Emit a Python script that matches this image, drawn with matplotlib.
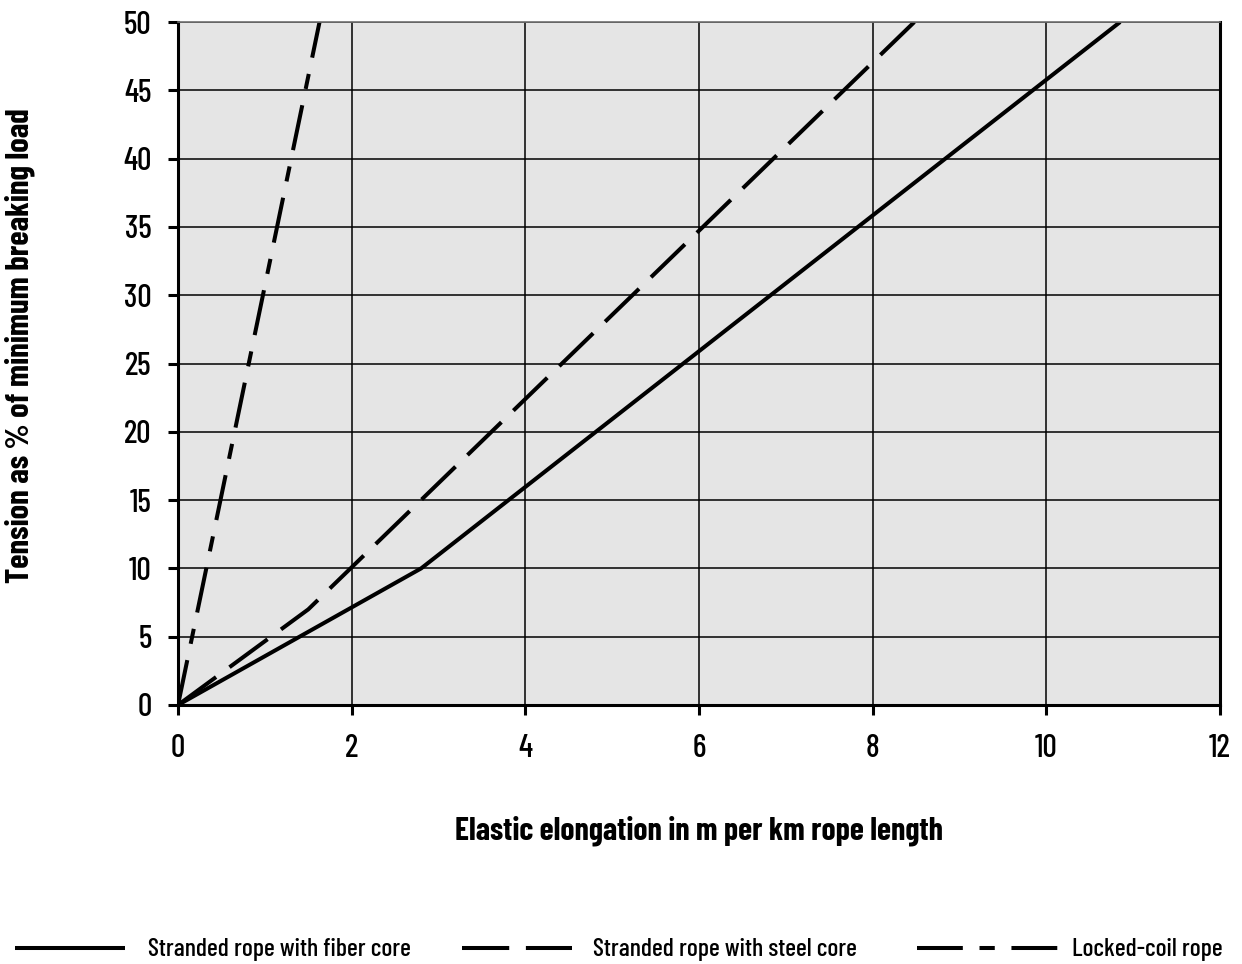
import matplotlib.pyplot as plt
from matplotlib.lines import Line2D

plt.rcParams['font.family'] = ['Barlow Condensed', 'Roboto Condensed',
                               'IBM Plex Sans Condensed', 'DejaVu Sans']
plt.rcParams['font.weight'] = 'medium'
plt.rcParams['lines.scale_dashes'] = False

# data
fiber_x = [0, 2.8, 10.85]
fiber_y = [0, 10, 50]
steel_x = [0, 1.5, 8.48]
steel_y = [0, 7, 50]
locked_x = [0, 1.63]
locked_y = [0, 50]

labels = ["Stranded rope with fiber core", "Stranded rope with steel core", "Locked-coil rope"]
xticks = [0, 2, 4, 6, 8, 10, 12]
yticks = [0, 5, 10, 15, 20, 25, 30, 35, 40, 45, 50]

W, H = 1242, 964
fig = plt.figure(figsize=(W / 100, H / 100), dpi=100)
ax = fig.add_axes([178 / W, 1 - 705 / H, (1220 - 178) / W, (705 - 22) / H])
ax.set_facecolor('#e5e5e5')

lw = 2.9
styles = [dict(), dict(dashes=(34, 12)), dict(dashes=(33, 12, 11, 12))]
ax.plot(fiber_x, fiber_y, color='black', lw=lw, solid_capstyle='butt', **styles[0])
ax.plot(steel_x, steel_y, color='black', lw=lw, dash_capstyle='butt', **styles[1])
ax.plot(locked_x, locked_y, color='black', lw=lw, dash_capstyle='butt', **styles[2])

ax.set_xlim(0, 12)
ax.set_ylim(0, 50)
ax.set_xticks(xticks)
ax.set_yticks(yticks)
ax.grid(True, color='black', lw=1.1)
ax.set_axisbelow(True)

for s in ['left', 'bottom', 'right']:
    ax.spines[s].set_linewidth(2.2)
    ax.spines[s].set_color('black')
ax.spines['top'].set_color('#707070')
ax.spines['top'].set_linewidth(1.2)

ax.tick_params(direction='out', length=7, width=2.2, labelsize=23, pad=12)
ax.tick_params(axis='x', pad=14)

ax.set_xlabel("Elastic elongation in m per km rope length", fontsize=23,
              fontweight='bold', labelpad=38)
fig.text(20 / W, 1 - 346 / H, "Tension as % of minimum breaking load", rotation=90,
         fontsize=23.5, fontweight='bold', ha='center', va='center')

# legend row along the bottom
leg_y = 1 - 948 / H
leg_lines = [(15, 125), (462, 572), (917, 1060)]
leg_text_x = [148, 593, 1072]
for (x0, x1), tx, lab, st in zip(leg_lines, leg_text_x, labels, styles):
    fig.add_artist(Line2D([x0 / W, x1 / W], [leg_y, leg_y], transform=fig.transFigure,
                          color='black', lw=lw, solid_capstyle='butt',
                          dash_capstyle='butt', **st))
    fig.text(tx / W, 1 - 956 / H, lab, fontsize=18.5, ha='left', va='baseline')

fig.savefig('out.png', dpi=100)
